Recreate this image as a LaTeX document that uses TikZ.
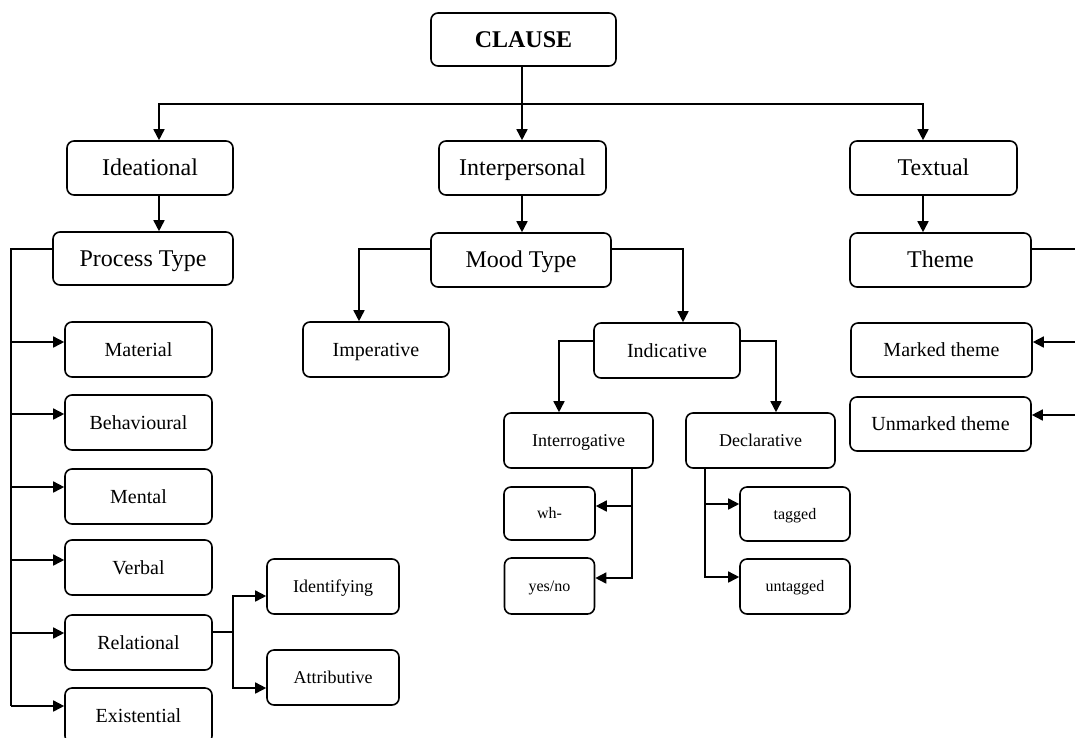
\documentclass[tikz,border=0pt]{standalone}
\usepackage{fontspec}
\setmainfont{Liberation Serif}
\usetikzlibrary{arrows.meta}

\begin{document}
\begin{tikzpicture}[x=1pt,y=-1pt,
  box/.style={draw, line width=1.6pt, rounded corners=7pt, inner sep=0pt,
    text depth=0pt, align=center},
  fxl/.style={font=\fontsize{24}{28}\selectfont, text height=15.9pt},
  fl/.style={font=\fontsize{20}{24}\selectfont, text height=13.2pt},
  fm/.style={font=\fontsize{18}{22}\selectfont, text height=11.9pt},
  fs/.style={font=\fontsize{16}{19}\selectfont, text height=10.6pt},
  link/.style={line width=1.6pt},
  arr/.style={line width=1.6pt, -{Triangle[length=11pt,width=11pt]}},
]
\useasboundingbox (0,0) rectangle (1075,737);

% top level
\node[box, fxl, minimum width=185pt, minimum height=53pt] (clause) at (523.5,39.5) {\textbf{CLAUSE}};
\node[box, fxl, minimum width=166pt, minimum height=54pt] (ideat) at (150,168) {Ideational};
\node[box, fxl, minimum width=167pt, minimum height=54pt] (inter) at (522.5,168) {Interpersonal};
\node[box, fxl, minimum width=167pt, minimum height=54pt] (textual) at (933.5,168) {Textual};

% second level
\node[box, fxl, minimum width=180pt, minimum height=53pt] (proc) at (143,258.5) {Process Type};
\node[box, fxl, minimum width=180pt, minimum height=54pt] (mood) at (521,260) {Mood Type};
\node[box, fxl, minimum width=181pt, minimum height=54pt] (theme) at (940.5,260) {Theme};

% process types
\node[box, fl, minimum width=147pt, minimum height=55pt] (material) at (138.5,349.5) {Material};
\node[box, fl, minimum width=147pt, minimum height=55pt] (behav) at (138.5,422.5) {Behavioural};
\node[box, fl, minimum width=147pt, minimum height=55pt] (mental) at (138.5,496.5) {Mental};
\node[box, fl, minimum width=147pt, minimum height=55pt] (verbal) at (138.5,567.5) {Verbal};
\node[box, fl, minimum width=147pt, minimum height=55pt] (relat) at (138.5,642.5) {Relational};
\node[box, fl, minimum width=147pt, minimum height=55pt] (exist) at (138.5,715.5) {Existential};
\node[box, fm, minimum width=132pt, minimum height=55pt] (ident) at (333,586.5) {Identifying};
\node[box, fm, minimum width=132pt, minimum height=55pt] (attrib) at (333,677.5) {Attributive};

% mood types
\node[box, fl, minimum width=146pt, minimum height=55pt] (imper) at (376,349.5) {Imperative};
\node[box, fl, minimum width=146pt, minimum height=55pt] (indic) at (667,350.5) {Indicative};
\node[box, fm, minimum width=149pt, minimum height=55pt] (interrog) at (578.5,440.5) {Interrogative};
\node[box, fm, minimum width=149pt, minimum height=55pt] (declar) at (760.5,440.5) {Declarative};
\node[box, fs, minimum width=91pt, minimum height=53pt] (wh) at (549.5,513.5) {wh-};
\node[box, fs, minimum width=90pt, minimum height=56pt] (yesno) at (549.5,586) {yes/no};
\node[box, fs, minimum width=110pt, minimum height=54pt] (tagged) at (795,514) {tagged};
\node[box, fs, minimum width=110pt, minimum height=55pt] (untagged) at (795,586.5) {untagged};

% themes
\node[box, fl, minimum width=181pt, minimum height=54pt] (marked) at (941.5,350) {Marked theme};
\node[box, fl, minimum width=181pt, minimum height=54pt] (unmarked) at (940.5,424) {Unmarked theme};

% junction points
\coordinate (jt) at (522,104);
\coordinate (pbot) at (11,706);
\coordinate (rj) at (233,632);
\coordinate (tj) at (1080,415);

% clause to metafunctions
\draw[arr] (clause.south -| jt) -- (inter.north -| jt);
\draw[arr] (jt) -| ([xshift=9pt]ideat.north);
\draw[arr] (jt) -| ([xshift=-10.5pt]textual.north);

\draw[arr] ([xshift=9pt]ideat.south) -- ([xshift=9pt]ideat.south |- proc.north);
\draw[arr] (inter.south -| jt) -- (mood.north -| jt);
\draw[arr] ([xshift=-10.5pt]textual.south) -- ([xshift=-10.5pt]textual.south |- theme.north);

% process type branches
\draw[link] ([yshift=9.5pt]proc.west) -| (pbot);
\draw[arr] ([yshift=7.5pt]material.west -| pbot) -- ([yshift=7.5pt]material.west);
\draw[arr] ([yshift=8.5pt]behav.west -| pbot) -- ([yshift=8.5pt]behav.west);
\draw[arr] ([yshift=9.5pt]mental.west -| pbot) -- ([yshift=9.5pt]mental.west);
\draw[arr] ([yshift=7.5pt]verbal.west -| pbot) -- ([yshift=7.5pt]verbal.west);
\draw[arr] ([yshift=9.5pt]relat.west -| pbot) -- ([yshift=9.5pt]relat.west);
\draw[arr] (pbot) -- ([yshift=9.5pt]exist.west);

% relational
\draw[link] ([yshift=10.5pt]relat.east) -- (rj);
\draw[arr] (rj) |- ([yshift=-9.5pt]ident.west);
\draw[arr] (rj) |- ([yshift=-10.5pt]attrib.west);

% mood branches
\draw[arr] ([yshift=11pt]mood.west) -| ([xshift=-17pt]imper.north);
\draw[arr] ([yshift=11pt]mood.east) -| ([xshift=16pt]indic.north);
\draw[arr] ([yshift=9.5pt]indic.west) -| ([xshift=-19.5pt]interrog.north);
\draw[arr] ([yshift=9.5pt]indic.east) -| ([xshift=15.5pt]declar.north);

\draw[arr] ([xshift=53.5pt]interrog.south) |- ([yshift=8pt]yesno.east);
\draw[arr] ([yshift=7.5pt]wh.east -| interrog.south) ++(53.5,0) -- ([yshift=7.5pt]wh.east);
\draw[arr] ([xshift=-55.5pt]declar.south) |- ([yshift=9.5pt]untagged.west);
\draw[arr] ([yshift=10pt]tagged.west -| declar.south) ++(-55.5,0) -- ([yshift=10pt]tagged.west);

% theme branches
\draw[link] ([yshift=11pt]theme.east) -| (tj);
\draw[arr] ([yshift=8pt]marked.east -| tj) -- ([yshift=8pt]marked.east);
\draw[arr] (tj) -- ([yshift=9pt]unmarked.east);
\end{tikzpicture}
\end{document}
